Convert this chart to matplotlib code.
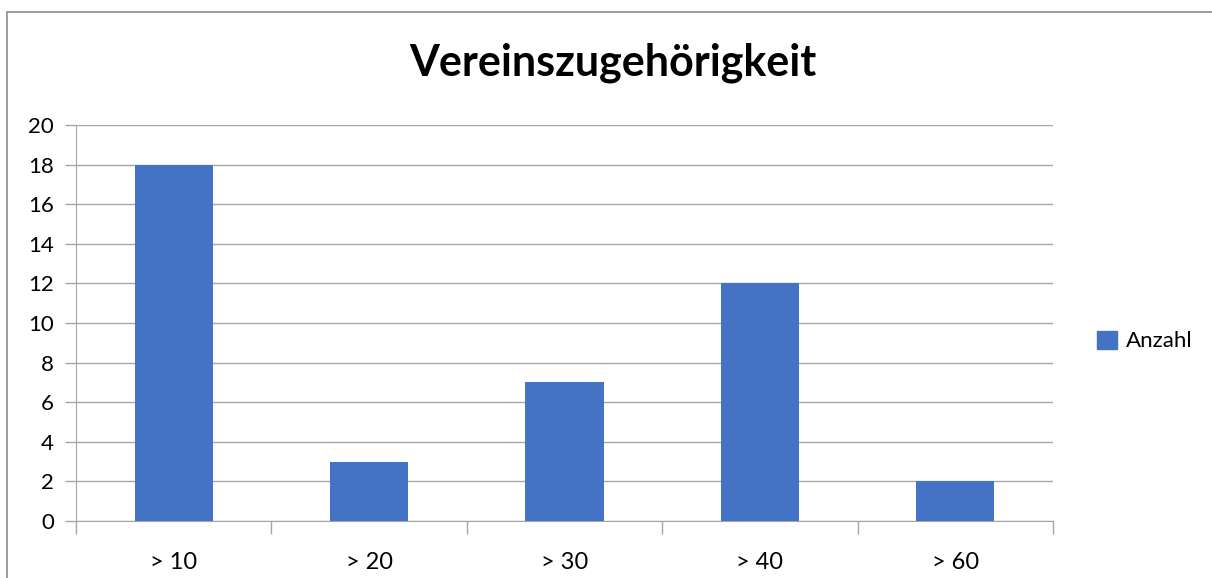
import matplotlib.pyplot as plt
from matplotlib.patches import Rectangle, Patch

categories = ["> 10", "> 20", "> 30", "> 40", "> 60"]
anzahl = [18, 3, 7, 12, 2]
y_ticks = [0, 2, 4, 6, 8, 10, 12, 14, 16, 18, 20]

W, H = 1212, 578
plt.rcParams['font.family'] = ['Lato', 'DejaVu Sans']

fig = plt.figure(figsize=(W / 100, H / 100), dpi=100)

# outer chart border
fig.patches.append(Rectangle((7 / W, -0.05), 1.1, 1 - 12 / H + 0.05,
                             transform=fig.transFigure, fill=False,
                             edgecolor="#8c8c8c", linewidth=1.2))

ax = fig.add_axes([76 / W, 1 - 521 / H, (1053 - 76) / W, (521 - 125) / H])

x = list(range(len(categories)))
ax.bar(x, anzahl, width=0.4, color="#4472C4", zorder=3, label="Anzahl")

ax.set_xlim(-0.5, len(categories) - 0.5)
ax.set_ylim(0, 20)
ax.set_yticks(y_ticks)
ax.set_yticklabels([str(v) for v in y_ticks], fontsize=16)
ax.yaxis.grid(True, color="#a6a6a6", linewidth=1, zorder=0)

ax.set_xticks(x)
ax.set_xticklabels(categories, fontsize=17)
ax.tick_params(axis="x", length=0, pad=22)
ax.set_xticks([i - 0.5 for i in range(len(categories) + 1)], minor=True)
ax.tick_params(axis="x", which="minor", length=9, color="#a6a6a6", width=1)
ax.tick_params(axis="y", length=8, color="#a6a6a6", width=1, pad=8)

for side in ["top", "right"]:
    ax.spines[side].set_visible(False)
ax.spines["left"].set_color("#a6a6a6")
ax.spines["bottom"].set_color("#a6a6a6")

fig.text(613 / W, 1 - 63 / H, "Vereinszugehörigkeit", ha="center", va="center",
         fontsize=31, fontweight="bold")

fig.legend(handles=[Patch(color="#4472C4", label="Anzahl")],
           loc="center left", bbox_to_anchor=(1077 / W, 1 - 341 / H),
           frameon=False, fontsize=16, handlelength=0.9, handleheight=0.9,
           handletextpad=0.4)

fig.savefig("out.png", dpi=100)
